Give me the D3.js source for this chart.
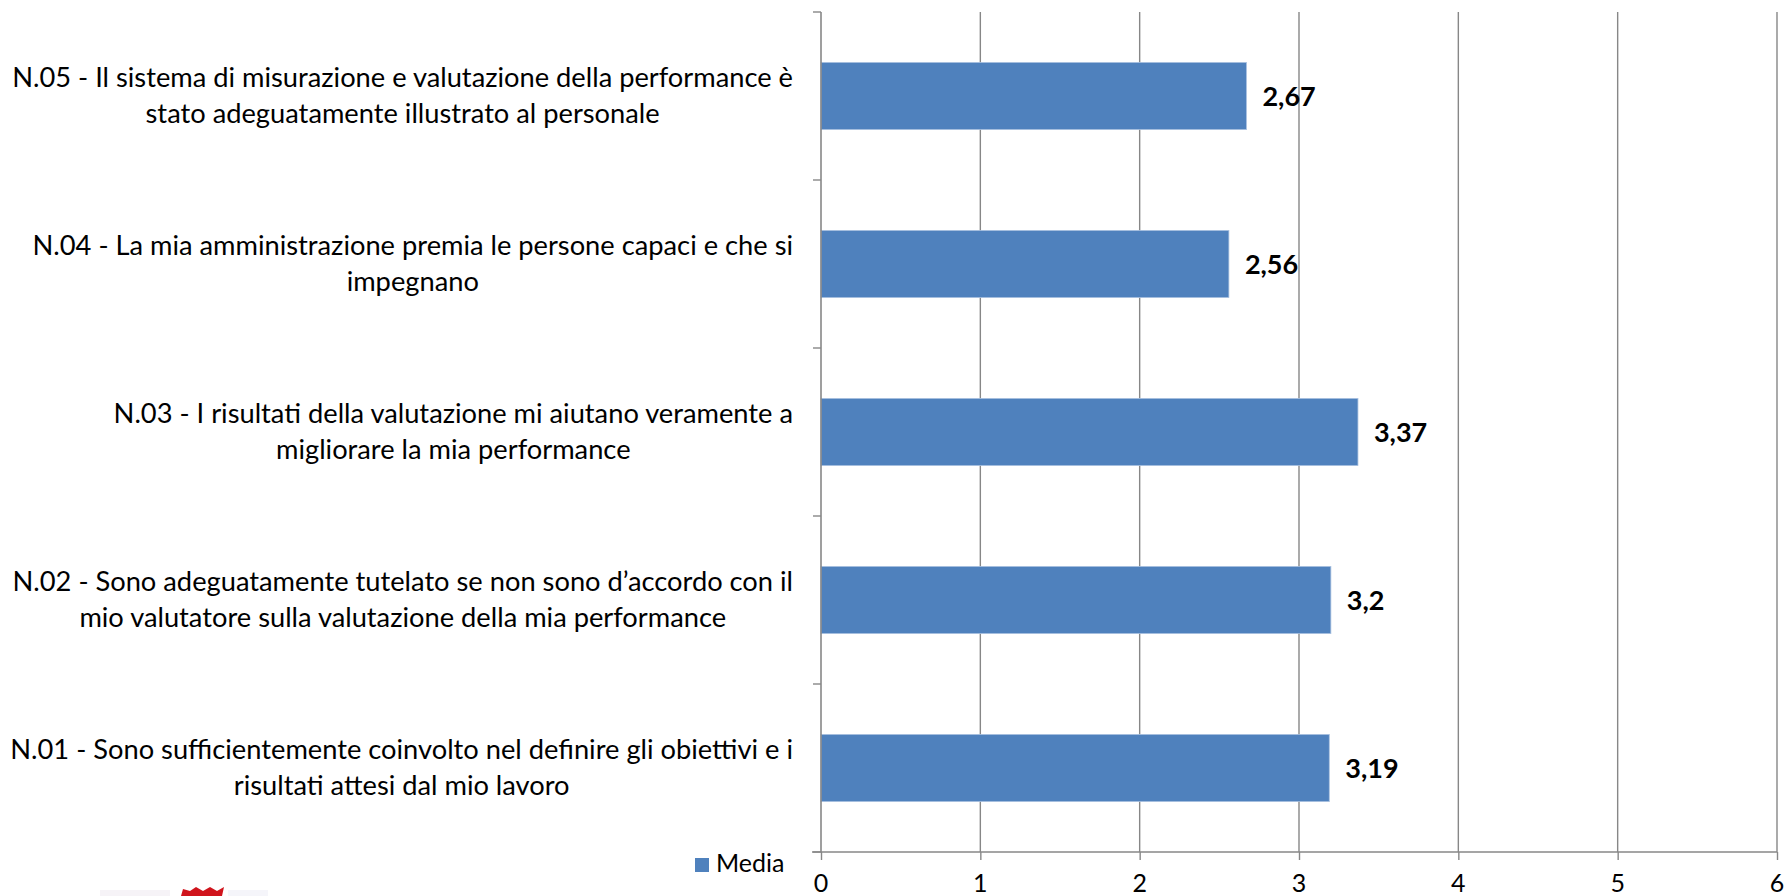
<!DOCTYPE html>
<html>
<head>
<meta charset="utf-8">
<script src="https://cdn.jsdelivr.net/npm/d3@7/dist/d3.min.js"></script>
<style>
  html, body { margin: 0; padding: 0; background: #ffffff; }
  svg { display: block; }
</style>
</head>
<body>
<svg id="chart" width="1787" height="896"></svg>
<script>
// ---- data ----
const categories = ["N.01", "N.02", "N.03", "N.04", "N.05"];
const categoryLines = [
  ["N.01 - Sono sufficientemente coinvolto nel definire gli obiettivi e i", "risultati attesi dal mio lavoro"],
  ["N.02 - Sono adeguatamente tutelato se non sono d\u2019accordo con il", "mio valutatore sulla valutazione della mia performance"],
  ["N.03 - I risultati della valutazione mi aiutano veramente a", "migliorare la mia performance"],
  ["N.04 - La mia amministrazione premia le persone capaci e che si", "impegnano"],
  ["N.05 - Il sistema di misurazione e valutazione della performance \u00e8", "stato adeguatamente illustrato al personale"]
];
const mediaValues = [3.19, 3.2, 3.37, 2.56, 2.67];
const xTicks = [0, 1, 2, 3, 4, 5, 6];
const seriesName = "Media";

// ---- layout ----
const FONT = "Lato, 'Open Sans', sans-serif";
const plot = { left: 821, right: 1777, top: 12, bottom: 852 };
const barColor = "#4F81BD";
const gridColor = "#878787";

const svg = d3.select("#chart");

const x = d3.scaleLinear().domain([0, 6]).range([plot.left, plot.right]);
const y = d3.scaleBand()
  .domain(categories.slice().reverse())
  .range([plot.top, plot.bottom])
  .paddingInner(0.6)
  .paddingOuter(0.3);
const yBand = d3.scaleBand().domain(categories.slice().reverse()).range([plot.top, plot.bottom]);

function textWidth(str, size, weight) {
  const t = svg.append("text").attr("font-family", FONT).attr("font-size", size)
    .attr("font-weight", weight || "normal").text(str);
  const w = t.node().getComputedTextLength();
  t.remove();
  return w;
}

// gridlines
svg.append("g")
  .selectAll("line")
  .data(xTicks.filter(d => d > 0))
  .join("line")
  .attr("x1", d => x(d)).attr("x2", d => x(d))
  .attr("y1", plot.top).attr("y2", plot.bottom)
  .attr("stroke", gridColor).attr("stroke-width", 1.4);

// bars
svg.append("g")
  .selectAll("rect")
  .data(categories)
  .join("rect")
  .attr("x", x(0))
  .attr("y", d => y(d))
  .attr("width", (d, i) => x(mediaValues[i]) - x(0))
  .attr("height", y.bandwidth())
  .attr("fill", barColor)
  .attr("stroke", "#A9C1E0")
  .attr("stroke-width", 0.8);

// x axis
const xAxis = d3.axisBottom(x).tickValues(xTicks).tickSize(8).tickPadding(0).tickFormat(d3.format("d"));
const gx = svg.append("g").attr("transform", `translate(0,${plot.bottom})`).call(xAxis);
gx.select(".domain").remove();
gx.selectAll(".tick line").attr("stroke", gridColor).attr("stroke-width", 1.4);
gx.selectAll(".tick text").remove();
svg.append("line")
  .attr("x1", plot.left - 9).attr("x2", plot.right)
  .attr("y1", plot.bottom).attr("y2", plot.bottom)
  .attr("stroke", gridColor).attr("stroke-width", 1.6);
svg.append("g").selectAll("text")
  .data(xTicks)
  .join("text")
  .attr("x", d => x(d))
  .attr("y", 892)
  .attr("text-anchor", "middle")
  .attr("font-family", FONT)
  .attr("font-size", 25)
  .attr("fill", "#000")
  .text(d => d);

// y axis line and ticks at band boundaries
svg.append("line")
  .attr("x1", plot.left).attr("x2", plot.left)
  .attr("y1", plot.top).attr("y2", plot.bottom)
  .attr("stroke", gridColor).attr("stroke-width", 1.6);
const boundaries = categories.map(c => yBand(c)).concat([plot.bottom]);
svg.append("g").selectAll("line")
  .data(boundaries)
  .join("line")
  .attr("x1", plot.left - 8).attr("x2", plot.left)
  .attr("y1", d => d).attr("y2", d => d)
  .attr("stroke", gridColor).attr("stroke-width", 1.4);

// category labels: font size fitted so the widest line matches the reference width
const labelRight = 793;
const targetW = 781;
const labelFont = 28 * targetW / textWidth(categoryLines[4][0], 28);
const catG = svg.append("g");
categories.forEach((c, i) => {
  const cy = yBand(c) + yBand.bandwidth() / 2;
  const lines = categoryLines[i];
  const g = catG.append("g");
  const texts = lines.map((ln, j) => g.append("text")
    .attr("y", cy + (j === 0 ? -9 : 26.5))
    .attr("text-anchor", "middle")
    .attr("font-family", FONT)
    .attr("font-size", labelFont)
    .attr("fill", "#000")
    .text(ln));
  const maxW = d3.max(texts, t => t.node().getComputedTextLength());
  texts.forEach(t => t.attr("x", labelRight - maxW / 2));
});

// value labels
svg.append("g").selectAll("text")
  .data(categories)
  .join("text")
  .attr("x", (d, i) => x(mediaValues[i]) + 16)
  .attr("y", d => y(d) + y.bandwidth() / 2 + 10)
  .attr("font-family", FONT)
  .attr("font-size", 27)
  .attr("font-weight", "bold")
  .attr("fill", "#000")
  .text((d, i) => String(mediaValues[i]).replace(".", ","));

// legend
const lg = svg.append("g");
lg.append("rect").attr("x", 695).attr("y", 858).attr("width", 14).attr("height", 14).attr("fill", barColor);
lg.append("text").attr("x", 716).attr("y", 872)
  .attr("font-family", FONT).attr("font-size", 25).attr("fill", "#000").text(seriesName);

// cropped logo fragment at bottom-left
const logo = svg.append("g");
logo.append("path")
  .attr("d", "M181,896 L183,889 L190,891 L196,887 L203,891 L210,887 L217,891 L224,887 L222,896 Z")
  .attr("fill", "#D0141C");
logo.append("rect").attr("x", 100).attr("y", 890).attr("width", 70).attr("height", 6).attr("fill", "#F6F3F7");
logo.append("rect").attr("x", 228).attr("y", 890).attr("width", 40).attr("height", 6).attr("fill", "#F5F5FA");
</script>
</body>
</html>
